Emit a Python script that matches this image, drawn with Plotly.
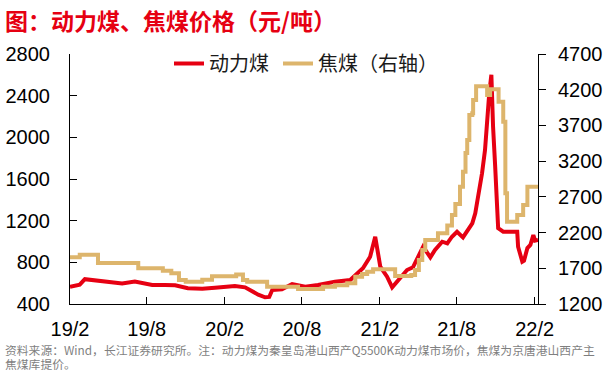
import plotly.graph_objects as go

# 动力煤 (left axis, 元/吨)
thermal_dates = [
    "2019-02-01", "2019-02-24", "2019-03-08", "2019-04-01", "2019-04-25", "2019-05-18",
    "2019-06-04", "2019-07-04", "2019-07-28", "2019-08-14", "2019-09-13", "2019-10-07",
    "2019-11-06", "2019-12-10", "2020-01-09", "2020-02-25", "2020-03-20", "2020-04-06",
    "2020-04-20", "2020-05-06", "2020-05-16", "2020-05-23", "2020-06-15", "2020-07-09",
    "2020-08-09", "2020-09-08", "2020-10-18", "2020-11-23", "2020-12-05", "2020-12-23",
    "2021-01-09", "2021-01-21", "2021-02-02", "2021-02-18", "2021-03-02", "2021-03-16",
    "2021-04-06", "2021-04-20", "2021-05-02", "2021-05-14", "2021-05-31", "2021-06-11",
    "2021-06-28", "2021-07-10", "2021-07-21", "2021-08-02", "2021-08-16", "2021-08-28",
    "2021-09-07", "2021-09-14", "2021-09-21", "2021-09-30", "2021-10-07", "2021-10-12",
    "2021-10-17", "2021-10-22", "2021-10-24", "2021-10-26", "2021-10-31", "2021-11-05",
    "2021-11-07", "2021-11-19", "2021-12-22", "2021-12-24", "2022-01-03", "2022-01-07",
    "2022-01-15", "2022-01-22", "2022-01-29", "2022-02-02", "2022-02-09",
]
thermal_values = [
    566, 585, 638, 628, 612, 606,
    596, 616, 595, 582, 582, 580,
    551, 546, 556, 572, 560, 518,
    490, 464, 468, 534, 541, 592,
    566, 582, 614, 630, 678, 743,
    854, 1046, 758, 662, 560, 630,
    726, 752, 860, 950, 848, 918,
    998, 982, 1046, 1094, 1040, 1110,
    1175, 1270, 1430, 1655, 1878, 2166,
    2423, 2600, 2330, 2102, 1718, 1302,
    1127, 1094, 1094, 950, 806, 816,
    938, 966, 1062, 1008, 1014,
]

# 焦煤 (right axis, 元/吨) – step changes
coking_dates = [
    "2019-02-01", "2019-02-24", "2019-04-08", "2019-07-12", "2019-09-08", "2019-09-28",
    "2019-10-16", "2019-11-01", "2019-12-10", "2020-01-02", "2020-02-28", "2020-03-15",
    "2020-03-25", "2020-05-11", "2020-07-23", "2020-09-20", "2020-10-18", "2020-11-16",
    "2020-12-05", "2020-12-21", "2021-01-02", "2021-01-16", "2021-03-09", "2021-04-16",
    "2021-04-25", "2021-05-04", "2021-05-12", "2021-05-19", "2021-06-18", "2021-07-10",
    "2021-07-21", "2021-07-29", "2021-08-09", "2021-08-16", "2021-08-22", "2021-08-26",
    "2021-08-31", "2021-09-07", "2021-09-09", "2021-09-16", "2021-10-12", "2021-10-19",
    "2021-11-08", "2021-11-19", "2021-11-24", "2021-11-28", "2021-12-22", "2022-01-05",
    "2022-01-15", "2022-02-09",
]
coking_values = [
    1856, 1888, 1775, 1700, 1666, 1630,
    1536, 1512, 1540, 1590, 1612, 1536,
    1512, 1440, 1410, 1440, 1462, 1490,
    1582, 1620, 1652, 1688, 1592, 1606,
    1676, 1816, 1956, 2096, 2190, 2300,
    2446, 2600, 2843, 3052, 3314, 3496,
    3846, 3870, 4056, 4250, 4126, 4206,
    4032, 3752, 2750, 2352, 2446, 2586,
    2842, 2842,
]

x_tick_vals = ["2019-02-01", "2019-08-01", "2020-02-01", "2020-08-01",
               "2021-02-01", "2021-08-01", "2022-02-01"]
x_tick_text = ["19/2", "19/8", "20/2", "20/8", "21/2", "21/8", "22/2"]
left_ticks = [400, 800, 1200, 1600, 2000, 2400, 2800]
right_ticks = [1200, 1700, 2200, 2700, 3200, 3700, 4200, 4700]

RED = "#E60012"
TAN = "#DDB56C"
FONT = "Liberation Sans, Arial, Noto Sans CJK SC, sans-serif"
CJK = "Noto Sans CJK SC, Microsoft YaHei, sans-serif"

# plot-area geometry in pixels
L, R, T, B = 70, 538, 54, 304
PW, PH = R - L, B - T


def px_x(x):
    return (x - L) / PW


def px_y(y):
    return (B - y) / PH


fig = go.Figure()
fig.add_trace(go.Scatter(
    x=thermal_dates, y=thermal_values, name="动力煤\u2009", mode="lines",
    line=dict(color=RED, width=4), yaxis="y",
))
fig.add_trace(go.Scatter(
    x=coking_dates, y=coking_values, name="焦煤（右轴）", mode="lines",
    line=dict(color=TAN, width=4, shape="hv"), yaxis="y2",
))

fig.update_layout(
    template="none",
    width=606, height=370,
    margin=dict(l=L, r=606 - R, t=T, b=370 - B, pad=0, autoexpand=False),
    paper_bgcolor="white", plot_bgcolor="white",
    font=dict(family=FONT, size=20, color="#000000"),
    showlegend=True,
    hovermode=False,
    legend=dict(
        orientation="h", x=px_x(169), y=px_y(44),
        xanchor="left", yanchor="top",
        font=dict(family=CJK, size=20, color="#1a1a1a"),
        bgcolor="rgba(255,255,255,0)", borderwidth=0,
        tracegroupgap=0,
    ),
    xaxis=dict(
        type="date", range=["2019-02-01", "2022-02-09"],
        tickmode="array", tickvals=x_tick_vals, ticktext=x_tick_text,
        ticks="inside", ticklen=7, tickwidth=1, tickcolor="black",
        showline=True, linecolor="black", linewidth=1,
        showgrid=False, zeroline=False, automargin=False,
        tickfont=dict(family=FONT, size=20, color="black"),
        ticklabelstandoff=7,
    ),
    yaxis=dict(
        range=[400, 2800], tickmode="array", tickvals=left_ticks,
        ticks="inside", ticklen=7, tickwidth=1, tickcolor="black",
        showline=True, linecolor="black", linewidth=1,
        showgrid=False, zeroline=False, automargin=False,
        tickfont=dict(family=FONT, size=20, color="black"),
        ticklabelstandoff=15,
    ),
    yaxis2=dict(
        range=[1200, 4700], tickmode="array", tickvals=right_ticks,
        overlaying="y", side="right", anchor="x",
        ticks="outside", ticklen=7, tickwidth=1, tickcolor="black",
        showline=True, linecolor="black", linewidth=1,
        showgrid=False, zeroline=False, automargin=False,
        tickfont=dict(family=FONT, size=20, color="black"),
        ticklabelstandoff=8,
    ),
)

fig.add_annotation(
    xref="paper", yref="paper", x=px_x(3), y=px_y(20),
    xanchor="left", yanchor="middle", showarrow=False,
    text="<b>图：动力煤、焦煤价格（元/吨）</b>",
    font=dict(family=CJK, size=23, color="#E60012"),
)
fig.add_annotation(
    xref="paper", yref="paper", x=px_x(3), y=px_y(349),
    xanchor="left", yanchor="middle", showarrow=False, align="left",
    text="资料来源：Wind，长江证券研究所。注：动力煤为秦皇岛港山西产Q5500K动力煤市场价，焦煤为京唐港山西产主",
    font=dict(family=CJK, size=11.8, color="#7F7F7F"),
)
fig.add_annotation(
    xref="paper", yref="paper", x=px_x(3), y=px_y(363),
    xanchor="left", yanchor="middle", showarrow=False, align="left",
    text="焦煤库提价。",
    font=dict(family=CJK, size=11.8, color="#7F7F7F"),
)

fig.write_html(
    "out.html",
    config={"displayModeBar": False, "responsive": False},
    post_script="document.body.style.margin='0';",
)
